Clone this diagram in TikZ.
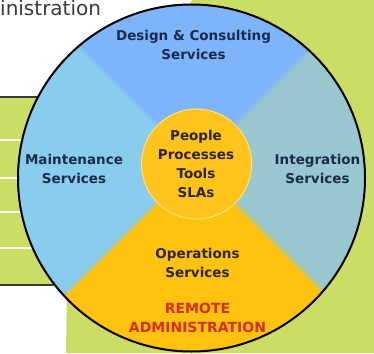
\documentclass[tikz,border=0pt]{standalone}
\usepackage{fontspec}
\setmainfont{DejaVu Sans}
\definecolor{bggreen}{HTML}{CCDD66}
\definecolor{sectop}{HTML}{7EB4FA}
\definecolor{secleft}{HTML}{88CDEE}
\definecolor{secright}{HTML}{99C7D0}
\definecolor{secbottom}{HTML}{FFC20E}
\definecolor{hubfill}{HTML}{FFC41C}
\definecolor{hubring}{HTML}{FFE27A}
\definecolor{navytext}{HTML}{1C2B4A}
\definecolor{darktext}{HTML}{2A2410}
\definecolor{redtext}{HTML}{D4301A}
\definecolor{headgray}{HTML}{3A3A3A}
\begin{document}
\begin{tikzpicture}[x=1pt,y=-1pt,
  lbl/.style={font=\fontsize{13.5}{19}\selectfont\bfseries, align=center, inner sep=0pt},
  rowline/.style={white, line width=1.5pt},
  ruleline/.style={headgray, line width=1.2pt},
  seam/.style={line width=3pt}]
\useasboundingbox (0,0) rectangle (374,353);
\fill[white] (0,0) rectangle (374,353);
% green background
\fill[bggreen] (0,97) -- (100,97) -- (187,10) -- (192,0) -- (374,0) -- (374,353)
  -- (66,353) -- (67,285) -- (0,285) -- cycle;
% table rules
\draw[ruleline] (0,97) -- (100,97);
\draw[ruleline] (0,285) -- (100,285);
\foreach \yy in {140,178,212,248} \draw[rowline] (0,\yy) -- (100,\yy);
% heading fragment
\node[anchor=base west, inner sep=0pt, font=\fontsize{20}{20}\selectfont, text=headgray] (head) at (0,15.5) {inistration};
% wheel
\coordinate (c) at (196,164);
\coordinate (tl) at (-104,-136);
\coordinate (tr) at (496,-136);
\coordinate (bl) at (-104,464);
\coordinate (br) at (496,464);
\begin{scope}
  \clip (191.5,178) circle (173.5);
  \fill[sectop] (c) -- (tl) -- (tr) -- cycle;
  \fill[secleft] (c) -- (tl) -- (bl) -- cycle;
  \fill[secright] (c) -- (tr) -- (br) -- cycle;
  \fill[secbottom] (c) -- (bl) -- (br) -- cycle;
  \draw[seam, sectop!50!secleft] (c) -- (tl);
  \draw[seam, sectop!50!secright] (c) -- (tr);
  \draw[seam, secleft!50!secbottom] (c) -- (bl);
  \draw[seam, secright!50!secbottom] (c) -- (br);
\end{scope}
\fill[hubfill] (196.5,164) circle (55);
\draw[hubring, line width=1pt] (196.5,164) circle (55);
\draw[black, line width=2pt] (191.5,178) circle (173.5);
% labels
\node[lbl, text=navytext] (design) at (193.5,45) {Design \& Consulting\\Services};
\node[lbl, text=navytext] (maint) at (74,169) {Maintenance\\Services};
\node[lbl, text=navytext] (integ) at (317.5,169) {Integration\\Services};
\node[lbl, text=darktext] (hub) at (196,163.5) {People\\Processes\\Tools\\SLAs};
\node[lbl, text=darktext] (ops) at (197.5,263) {Operations\\Services};
\node[lbl, text=redtext, font=\fontsize{14}{19}\selectfont\bfseries] (remote) at (197.5,317.5) {REMOTE\\ADMINISTRATION};
\end{tikzpicture}
\end{document}
